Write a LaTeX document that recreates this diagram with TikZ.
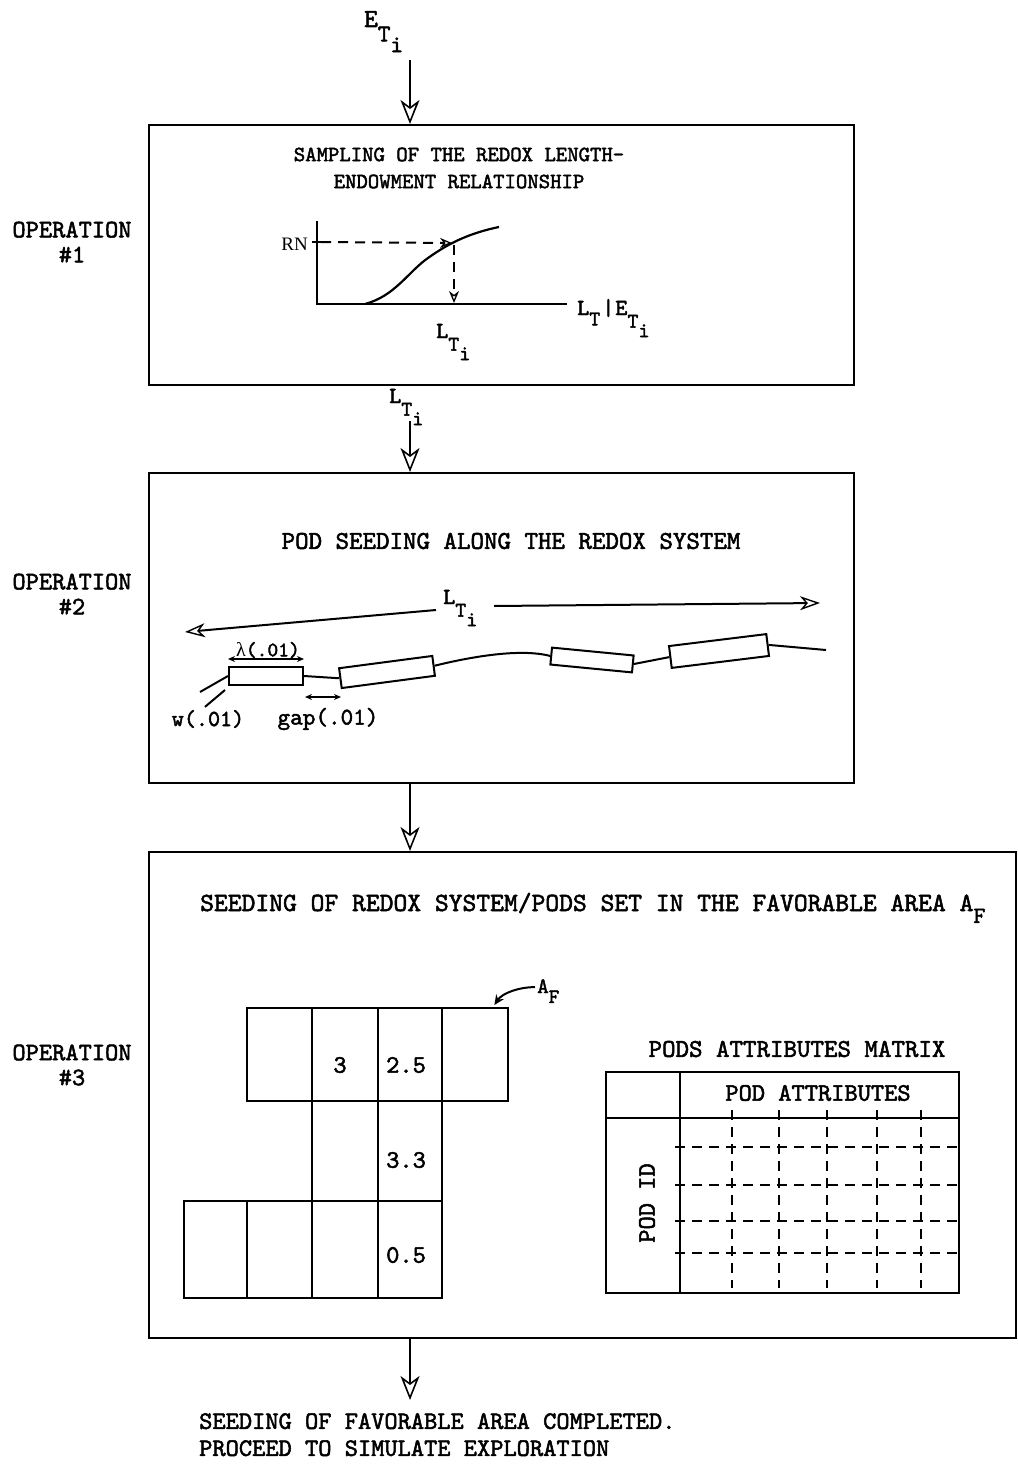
\documentclass[tikz,border=0pt]{standalone}
\usepackage{fontspec}
\setmainfont{lmmono10-regular.otf}[FakeBold=2]
\newfontfamily\serf{Liberation Serif}
\usetikzlibrary{arrows.meta,calc}
\newcommand{\fsz}[1]{\fontsize{#1}{#1}\selectfont}
\newcommand{\dsub}[4][22]{#2\raisebox{-0.55em}{\fsz{#1}#3\raisebox{-0.45em}{#4}}}
\newcommand{\ssub}[3][22]{#2\raisebox{-0.45em}{\fsz{#1}#3}}
\begin{document}
\begin{tikzpicture}[x=1pt,y=-1pt,
  opbox/.style={draw,line width=2.2pt,anchor=north west,inner sep=0pt},
  flow/.style={line width=2pt,-{Stealth[open,length=24pt,width=19pt,inset=7pt,line width=1.6pt]}},
  txt/.style={inner sep=0pt,font=\fontsize{25.2}{25}\selectfont},
  thinln/.style={line width=2pt},
  dsh/.style={line width=2pt,dash pattern=on 10pt off 7pt},
  cell/.style={draw,line width=2.4pt,inner sep=0pt,anchor=north west},
  pod/.style={draw,line width=2pt,inner sep=0pt,fill=white},
  smallhead/.style={-{Stealth[open,length=12pt,width=10pt,line width=1.3pt]}},
  dbl/.style={line width=1.6pt,{Stealth[length=7pt,width=6pt]}-{Stealth[length=7pt,width=6pt]}}
]
\useasboundingbox (0,0) rectangle (1017,1466);

% operation boxes
\node[opbox,minimum width=705pt,minimum height=260pt] (box1) at (148,124) {};
\node[opbox,minimum width=705pt,minimum height=310pt] (box2) at (148,472) {};
\node[opbox,minimum width=867pt,minimum height=486pt] (box3) at (148,851) {};

% operation labels
\node[txt,align=center] (op1) at (72,242) {OPERATION\\\#1};
\node[txt,align=center] (op2) at (72,594) {OPERATION\\\#2};
\node[txt,align=center] (op3) at (72,1065) {OPERATION\\\#3};

% input arrow
\node[txt,anchor=base west,font=\fontsize{26}{26}\selectfont] (eti) at (364,27) {\dsub[24]{E}{T}{i}};
\coordinate (ax) at (410,60);
\draw[flow] (ax) -- (ax |- box1.north);

% ---------- operation 1
\node[txt,font=\fontsize{21.7}{27}\selectfont,align=center] (h1) at (459,168) {SAMPLING OF THE REDOX LENGTH-\\ENDOWMENT RELATIONSHIP};
\coordinate (ytop) at (317,221);
\coordinate (orig) at (317,304);
\coordinate (xend) at (567,304);
\draw[line width=2.2pt] (ytop) -- (orig) -- (xend);
\coordinate (rnt) at (321,242);
\draw[line width=2pt] (312,242) -- (rnt);
\node[font=\serf\fontsize{19}{19}\selectfont,anchor=east,inner sep=0pt] (rn) at (308,244) {RN};
\draw[line width=2.2pt] (365,304) .. controls (395,296) and (408,272) .. (428,258) .. controls (445,246) and (465,234) .. (499,227);
\coordinate (cp) at (452,243);
\draw[dsh,smallhead] (rnt) -- (cp);
\draw[dsh,smallhead] ($(cp)+(2,2)$) -- ($(cp |- orig)+(2,-1)$);
\node[txt,anchor=base west,font=\fontsize{23}{23}\selectfont] (lti1) at (436,338) {\dsub[21]{L}{T}{i}};
\node[txt,anchor=base west,font=\fontsize{23}{23}\selectfont] (lte) at (577,315) {\ssub[21]{L}{T}\kern2pt|\kern1pt\dsub[21]{E}{T}{i}};

% arrow 1 -> 2
\node[txt,anchor=base west,font=\fontsize{23}{23}\selectfont] (lti2) at (389,403) {\dsub[21]{L}{T}{i}};
\coordinate (a2) at (410,421);
\draw[flow] (a2) -- (a2 |- box2.north);

% ---------- operation 2
\node[txt,font=\fontsize{25.7}{25.7}\selectfont] (h2) at (511,541) {POD SEEDING ALONG THE REDOX SYSTEM};
\node[txt,anchor=base west,font=\fontsize{23}{23}\selectfont] (lti3) at (443,604) {\dsub[21]{L}{T}{i}};
\coordinate (la) at (436,610);
\coordinate (lb) at (185,632);
\coordinate (ra) at (494,606);
\coordinate (rb) at (820,603);
\draw[line width=2pt,-{Stealth[open,length=20pt,width=14pt,inset=6pt,line width=1.4pt]}] (la) -- (lb);
\draw[line width=2pt,-{Stealth[open,length=20pt,width=14pt,inset=6pt,line width=1.4pt]}] (ra) -- (rb);

\node[pod,minimum width=74pt,minimum height=18pt] (p1) at (266,676) {};
\node[pod,minimum width=94pt,minimum height=20pt,rotate=7.5] (p2) at (387,672) {};
\node[pod,minimum width=82pt,minimum height=17pt,rotate=-5.5] (p3) at (592,660) {};
\node[pod,minimum width=98pt,minimum height=22pt,rotate=7] (p4) at (719,651) {};
\coordinate (r0) at (200,692);
\coordinate (r5) at (826,650);
\draw[thinln] (r0) -- (p1.west);
\draw[thinln] (p1.east) -- (p2.west);
\draw[thinln] (p2.east) .. controls (470,657) and (520,648) .. (p3.west);
\draw[thinln] (p3.east) -- (p4.west);
\draw[thinln] (p4.east) -- (r5);

\node[txt,font=\fontsize{20.6}{20.6}\selectfont] (lam) at (268,650) {{\serf\fontsize{20}{20}\selectfont λ}(.01)};
\draw[dbl] ($(p1.north west)+(0,-7)$) -- ($(p1.north east)+(0,-7)$);
\coordinate (g1) at (305,697);
\coordinate (g2) at (341,697);
\draw[dbl] (g1) -- (g2);
\node[txt,font=\fontsize{24}{24}\selectfont] (gap) at (328,719) {gap(.01)};
\node[txt,font=\fontsize{23}{23}\selectfont] (w) at (208,719) {w(.01)};
\draw[thinln] ($(w.north)+(-3,-3)$) -- ($(p1.south west)+(-3,4)$);

% arrow 2 -> 3
\draw[flow] (box2.south -| ax) -- (box3.north -| ax);

% ---------- operation 3
\node[txt,font=\fontsize{26.3}{26.3}\selectfont,anchor=base west] (h3) at (200,911) {SEEDING OF REDOX SYSTEM/PODS SET IN THE FAVORABLE AREA \ssub[23]{A}{F}};

\node[cell,minimum width=65pt,minimum height=93pt] (t1) at (246,1007) {};
\node[cell,minimum width=66pt,minimum height=93pt] (t2) at (311,1007) {};
\node[cell,minimum width=64pt,minimum height=93pt] (t3) at (377,1007) {};
\node[cell,minimum width=66pt,minimum height=93pt] (t4) at (441,1007) {};
\node[cell,minimum width=66pt,minimum height=100pt] (m2) at (311,1100) {};
\node[cell,minimum width=64pt,minimum height=100pt] (m3) at (377,1100) {};
\node[cell,minimum width=63pt,minimum height=97pt] (b0) at (183,1200) {};
\node[cell,minimum width=65pt,minimum height=97pt] (b1) at (246,1200) {};
\node[cell,minimum width=66pt,minimum height=97pt] (b2) at (311,1200) {};
\node[cell,minimum width=64pt,minimum height=97pt] (b3) at (377,1200) {};
\node[txt] (n1) at (340,1065) {3};
\node[txt,anchor=west] (n2) at (386,1065) {2.5};
\node[txt,anchor=west] (n3) at (386,1160) {3.3};
\node[txt,anchor=west] (n4) at (386,1255) {0.5};

\node[txt,anchor=base west,font=\fontsize{22}{22}\selectfont] (af) at (537,993) {\ssub[20]{A}{F}};
\draw[line width=2pt,-{Stealth[length=10pt,width=9pt]}] ($(af.west)+(-2,-4)$) .. controls +(-16,0) and +(8,-12) .. ($(t4.north east)+(-15,-2)$);

% attributes matrix
\node[txt,font=\fontsize{25.7}{25.7}\selectfont] (mt) at (797,1049) {PODS ATTRIBUTES MATRIX};
\node[cell,minimum width=353pt,minimum height=221pt] (mx) at (605,1071) {};
\draw[line width=2.4pt] (680,1071) -- (680,1292);
\draw[line width=2.4pt] (605,1118) -- (958,1118);
\node[txt] (pa) at (818,1093) {POD ATTRIBUTES};
\node[txt,rotate=90] (pid) at (647,1203) {POD ID};
\foreach \yy in {1147,1185,1221,1253} \draw[dsh] (675,\yy) -- (958,\yy);
\foreach \xx in {732,779,827,877,921} \draw[dsh] (\xx,1110) -- (\xx,1288);

% output arrow
\coordinate (a4) at (410,1400);
\draw[flow] (box3.south -| ax) -- (a4);
\node[txt,align=left,anchor=north west,font=\fontsize{25.2}{27}\selectfont] (fin) at (199,1413) {SEEDING OF FAVORABLE AREA COMPLETED.\\PROCEED TO SIMULATE EXPLORATION};
\end{tikzpicture}
\end{document}
